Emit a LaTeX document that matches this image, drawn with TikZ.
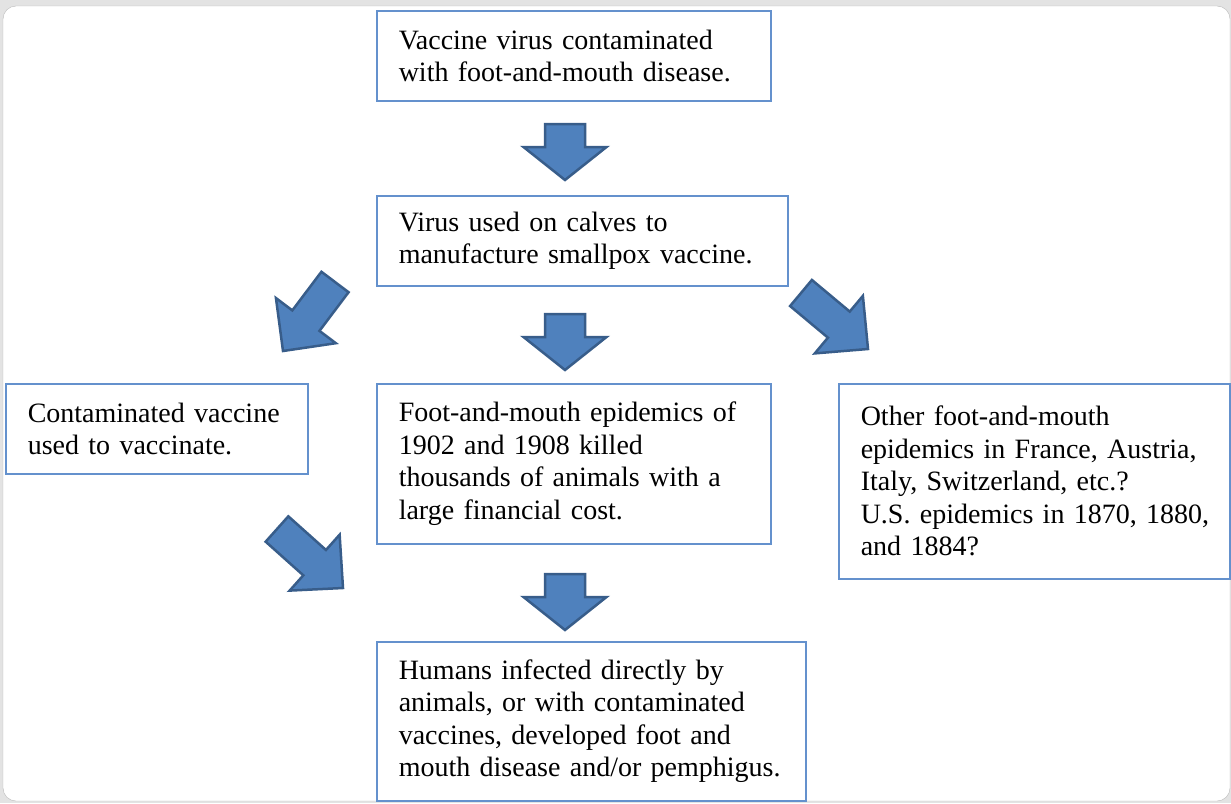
\documentclass[tikz,border=0pt]{standalone}
\usepackage{fontspec}
\setmainfont{Liberation Serif}
\usepackage{xcolor}
\usepackage{tikz}
\usetikzlibrary{positioning, calc}

\definecolor{boxline}{RGB}{100,145,205}
\definecolor{arrowfill}{RGB}{79,129,189}
\definecolor{arrowline}{RGB}{56,93,138}

% block arrow: tail, tip, shaft half width, head half width, head length
\newcommand{\blkarrow}[5]{%
  \draw[blockarrow] let \p1=($(#2)-(#1)$), \n1={atan2(\y1,\x1)}, \n2={veclen(\x1,\y1)-#5pt} in
    ($(#1)+(\n1+90:#3pt)$) -- ($(#1)+(\n1:\n2+0pt)+(\n1+90:#3pt)$)
    -- ($(#1)+(\n1:\n2+0pt)+(\n1+90:#4pt)$) -- (#2)
    -- ($(#1)+(\n1:\n2+0pt)+(\n1-90:#4pt)$) -- ($(#1)+(\n1:\n2+0pt)+(\n1-90:#3pt)$)
    -- ($(#1)+(\n1-90:#3pt)$) -- cycle;}

\begin{document}
\begin{tikzpicture}[
    x=1pt, y=-1pt,
    box/.style={rectangle, draw=boxline, line width=1.5pt, fill=white, anchor=north west,
      align=left, inner xsep=22pt, inner ysep=0pt, font=\fontsize{28}{32.5}\selectfont},
    blockarrow/.style={draw=arrowline, line width=2.5pt, fill=arrowfill, line join=miter}
]
  \useasboundingbox (0,0) rectangle (1231,803);

  % Frame
  \fill[gray!22] (0,0) rectangle (1231,803);
  \draw[gray!55, fill=white, rounded corners=13pt] (3,6) rectangle (1230,801);

  % Boxes
  \node[box, text width=350pt, minimum height=90pt] (vaccine) at (376,10)
    {Vaccine virus contaminated\\ with foot-and-mouth disease.};
  \node[box, text width=367pt, minimum height=90pt] (calves) at (376,195)
    {Virus used on calves to\\ manufacture smallpox vaccine.};
  \node[box, text width=258pt, minimum height=90pt] (used) at (5,383)
    {\mbox{Contaminated vaccine}\\ used to vaccinate.};
  \node[box, text width=350pt, minimum height=160pt] (epidemics) at (376,383)
    {\mbox{Foot-and-mouth epidemics of}\\ 1902 and 1908 killed\\ thousands of animals with a\\ large financial cost.};
  \node[box, text width=347pt, minimum height=195pt] (others) at (838,383)
    {Other foot-and-mouth\\ epidemics in France, Austria,\\ Italy, Switzerland, etc.?\\ \mbox{U.S. epidemics in 1870, 1880,}\\ and 1884?};
  \node[box, text width=385pt, minimum height=159pt] (humans) at (376,641)
    {Humans infected directly by\\ animals, or with contaminated\\ vaccines, developed foot and\\ \mbox{mouth disease and/or pemphigus.}};

  % Arrows
  \blkarrow{565,124}{565,180}{20}{41.5}{33}
  \blkarrow{565,314}{565,370}{20}{41.5}{33}
  \blkarrow{565,574}{565,630}{20}{41.5}{33}
  \blkarrow{335,282}{283,351}{17}{37.5}{38}
  \blkarrow{801,293}{868,349}{17}{37.5}{38}
  \blkarrow{277,529}{343,588}{17}{37.5}{38}
\end{tikzpicture}
\end{document}
